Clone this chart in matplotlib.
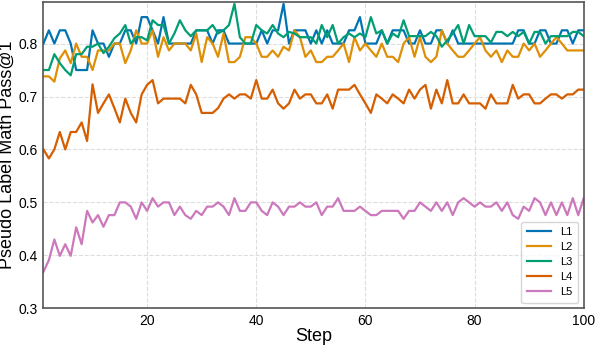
import numpy as np
import matplotlib
matplotlib.use("Agg")
import matplotlib.pyplot as plt

plt.rcParams['font.family'] = ['Liberation Sans', 'DejaVu Sans']

steps = np.arange(1, 101)

L1 = [0.8, 0.825, 0.8, 0.825, 0.825, 0.8, 0.75, 0.75, 0.75, 0.825,
      0.8, 0.8, 0.775, 0.8, 0.8, 0.825, 0.825, 0.8, 0.85, 0.85,
      0.825, 0.8, 0.85, 0.8, 0.8, 0.8, 0.8, 0.8, 0.825, 0.825,
      0.825, 0.8, 0.825, 0.825, 0.8, 0.8, 0.8, 0.8, 0.8, 0.8,
      0.825, 0.8, 0.825, 0.825, 0.875, 0.8, 0.825, 0.825, 0.825, 0.8,
      0.825, 0.8, 0.825, 0.8, 0.8, 0.8, 0.825, 0.825, 0.85, 0.8,
      0.8, 0.8, 0.825, 0.8, 0.825, 0.825, 0.825, 0.8, 0.8, 0.825,
      0.8, 0.8, 0.825, 0.825, 0.8, 0.825, 0.8, 0.8, 0.8, 0.8,
      0.8, 0.8, 0.8, 0.8, 0.8, 0.8, 0.8, 0.825, 0.825, 0.8,
      0.8, 0.825, 0.825, 0.8, 0.8, 0.825, 0.825, 0.8, 0.825, 0.825]

L2 = [0.738, 0.738, 0.728, 0.772, 0.787, 0.763, 0.8, 0.775, 0.775, 0.75,
      0.787, 0.787, 0.787, 0.8, 0.8, 0.763, 0.787, 0.825, 0.8, 0.8,
      0.825, 0.775, 0.812, 0.787, 0.8, 0.8, 0.8, 0.787, 0.819, 0.765,
      0.812, 0.8, 0.775, 0.819, 0.765, 0.765, 0.775, 0.812, 0.812, 0.8,
      0.775, 0.775, 0.787, 0.775, 0.794, 0.787, 0.825, 0.812, 0.775, 0.787,
      0.765, 0.765, 0.775, 0.775, 0.787, 0.8, 0.765, 0.812, 0.787, 0.8,
      0.787, 0.775, 0.8, 0.775, 0.775, 0.765, 0.8, 0.812, 0.775, 0.812,
      0.775, 0.765, 0.775, 0.825, 0.8, 0.787, 0.775, 0.775, 0.787, 0.8,
      0.812, 0.787, 0.775, 0.787, 0.765, 0.787, 0.775, 0.775, 0.8, 0.787,
      0.8, 0.775, 0.787, 0.8, 0.812, 0.8, 0.787, 0.787, 0.787, 0.787]

L3 = [0.75, 0.75, 0.78, 0.763, 0.75, 0.74, 0.78, 0.78, 0.794, 0.794,
      0.8, 0.782, 0.794, 0.81, 0.819, 0.835, 0.8, 0.812, 0.812, 0.806,
      0.844, 0.835, 0.835, 0.8, 0.819, 0.844, 0.825, 0.814, 0.825, 0.825,
      0.825, 0.835, 0.819, 0.825, 0.835, 0.875, 0.812, 0.8, 0.8, 0.835,
      0.825, 0.819, 0.835, 0.819, 0.812, 0.822, 0.819, 0.812, 0.812, 0.812,
      0.8, 0.835, 0.812, 0.835, 0.8, 0.812, 0.819, 0.812, 0.819, 0.812,
      0.85, 0.819, 0.825, 0.8, 0.819, 0.812, 0.844, 0.814, 0.814, 0.814,
      0.814, 0.822, 0.814, 0.794, 0.806, 0.819, 0.835, 0.8, 0.835, 0.814,
      0.814, 0.814, 0.802, 0.822, 0.822, 0.814, 0.822, 0.814, 0.822, 0.8,
      0.822, 0.822, 0.8, 0.814, 0.814, 0.814, 0.814, 0.822, 0.822, 0.814]

L4 = [0.6, 0.583, 0.6, 0.633, 0.6, 0.633, 0.633, 0.651, 0.616, 0.723,
      0.669, 0.687, 0.704, 0.678, 0.651, 0.696, 0.669, 0.651, 0.704, 0.722,
      0.731, 0.687, 0.696, 0.696, 0.696, 0.696, 0.687, 0.722, 0.704, 0.669,
      0.669, 0.669, 0.678, 0.696, 0.704, 0.696, 0.704, 0.704, 0.696, 0.731,
      0.696, 0.696, 0.713, 0.687, 0.677, 0.687, 0.713, 0.696, 0.704, 0.704,
      0.687, 0.687, 0.704, 0.677, 0.713, 0.713, 0.713, 0.722, 0.704, 0.687,
      0.669, 0.704, 0.696, 0.687, 0.704, 0.696, 0.687, 0.713, 0.696, 0.713,
      0.722, 0.677, 0.713, 0.687, 0.731, 0.687, 0.687, 0.704, 0.687, 0.687,
      0.687, 0.677, 0.704, 0.687, 0.687, 0.687, 0.722, 0.696, 0.704, 0.704,
      0.687, 0.687, 0.696, 0.704, 0.704, 0.696, 0.704, 0.704, 0.713, 0.713]

L5 = [0.369, 0.391, 0.43, 0.399, 0.421, 0.399, 0.453, 0.421, 0.484, 0.462,
      0.476, 0.454, 0.476, 0.476, 0.5, 0.5, 0.492, 0.469, 0.5, 0.484,
      0.508, 0.492, 0.5, 0.5, 0.476, 0.492, 0.476, 0.469, 0.484, 0.476,
      0.492, 0.492, 0.5, 0.492, 0.476, 0.508, 0.484, 0.484, 0.5, 0.5,
      0.484, 0.476, 0.5, 0.492, 0.476, 0.492, 0.492, 0.5, 0.492, 0.492,
      0.5, 0.476, 0.492, 0.492, 0.508, 0.484, 0.484, 0.484, 0.492, 0.484,
      0.476, 0.476, 0.484, 0.484, 0.484, 0.484, 0.469, 0.484, 0.484, 0.5,
      0.492, 0.484, 0.5, 0.484, 0.5, 0.476, 0.5, 0.508, 0.5, 0.492,
      0.5, 0.492, 0.492, 0.5, 0.484, 0.5, 0.476, 0.469, 0.492, 0.484,
      0.508, 0.5, 0.476, 0.5, 0.476, 0.5, 0.476, 0.508, 0.476, 0.508]

SERIES = [('L1', L1), ('L2', L2), ('L3', L3), ('L4', L4), ('L5', L5)]
COLORS = ['#0173b2', '#de8f05', '#029e73', '#d55e00', '#cc78bc']

fig, ax = plt.subplots(figsize=(5.95, 3.46), dpi=100)
fig.subplots_adjust(left=0.073, right=0.981, bottom=0.109, top=0.995)

for (label, vals), color in zip(SERIES, COLORS):
    ax.plot(steps, vals, color=color, linewidth=1.6, label=label)

ax.set_xlim(1, 100)
ax.set_ylim(0.3, 0.879)
ax.set_xticks([20, 40, 60, 80, 100])
ax.set_yticks([0.3, 0.4, 0.5, 0.6, 0.7, 0.8])
ax.tick_params(labelsize=10, length=0, pad=4)
ax.grid(True, linestyle='--', color='#dddddd', linewidth=0.8)
ax.set_axisbelow(True)
for sp in ax.spines.values():
    sp.set_color('#555555')
    sp.set_linewidth(1.2)

ax.set_xlabel('Step', fontsize=13, labelpad=0)
ax.set_ylabel('Pseudo Label Math Pass@1', fontsize=13, labelpad=2)
ax.legend(loc='lower right', fontsize=8, frameon=True, fancybox=True,
          handlelength=2.2, borderpad=0.5, labelspacing=0.45)

plt.savefig('out.png', dpi=100)
